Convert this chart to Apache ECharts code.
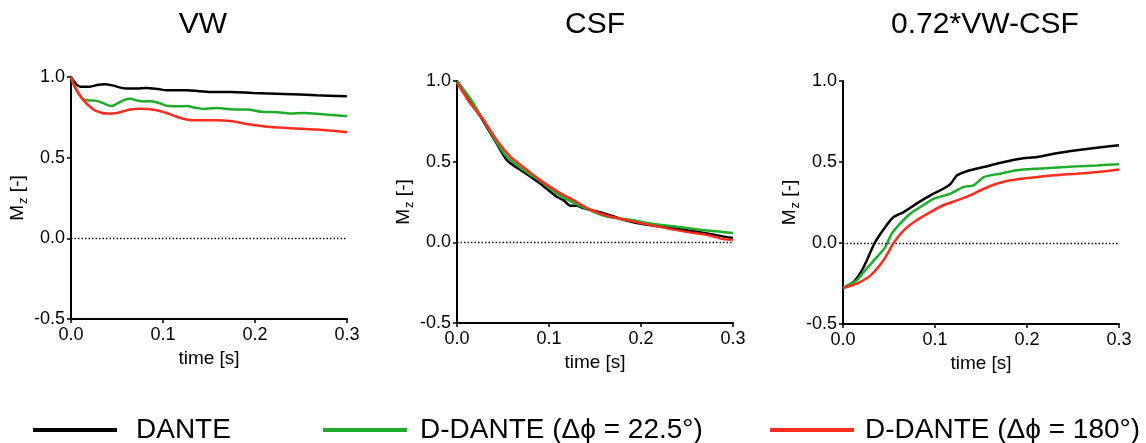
<!DOCTYPE html>
<html>
<head>
<meta charset="utf-8">
<script src="https://cdn.jsdelivr.net/npm/echarts@6/dist/echarts.min.js"></script>
<style>
html,body{margin:0;padding:0;background:#fff;}
#chart{width:1146px;height:443px;}
</style>
</head>
<body>
<div id="chart"></div>
<script>
// ---------- data ----------
const panelTitles = ['VW', 'CSF', '0.72*VW-CSF'];
const seriesNames = ['DANTE', 'D-DANTE (\u0394\u03d5 = 22.5\u00b0)', 'D-DANTE (\u0394\u03d5 = 180\u00b0)'];
const xTicks = [0, 0.1, 0.2, 0.3];
const yTicks = [-0.5, 0, 0.5, 1.0];

// VW
const vwDanteT = [0, 0.005, 0.01, 0.02, 0.03, 0.037, 0.045, 0.06, 0.072, 0.082, 0.095, 0.104, 0.126, 0.14, 0.155, 0.173, 0.198, 0.231, 0.267, 0.3];
const vwDanteV = [1.0, 0.96, 0.94, 0.94, 0.952, 0.955, 0.948, 0.928, 0.928, 0.932, 0.925, 0.918, 0.918, 0.912, 0.907, 0.907, 0.901, 0.895, 0.887, 0.880];
const vwD225T = [0, 0.005, 0.013, 0.02, 0.028, 0.035, 0.0435, 0.05, 0.059, 0.065, 0.071, 0.08, 0.086, 0.095, 0.104, 0.115, 0.126, 0.135, 0.144, 0.158, 0.177, 0.191, 0.209, 0.224, 0.238, 0.253, 0.271, 0.3];
const vwD225V = [1.0, 0.93, 0.864, 0.855, 0.852, 0.838, 0.82, 0.835, 0.86, 0.865, 0.855, 0.848, 0.85, 0.84, 0.822, 0.818, 0.82, 0.81, 0.802, 0.808, 0.798, 0.798, 0.783, 0.782, 0.774, 0.777, 0.771, 0.757];
const vwD180T = [0, 0.005, 0.013, 0.024, 0.032, 0.039, 0.05, 0.064, 0.075, 0.09, 0.104, 0.119, 0.133, 0.158, 0.173, 0.195, 0.213, 0.238, 0.267, 0.3];
const vwD180V = [1.0, 0.93, 0.86, 0.80, 0.78, 0.773, 0.777, 0.798, 0.803, 0.797, 0.777, 0.746, 0.732, 0.732, 0.727, 0.705, 0.692, 0.683, 0.674, 0.658];

// CSF
const csfDanteT = [0, 0.0145, 0.029, 0.043, 0.054, 0.063, 0.072, 0.09, 0.108, 0.116, 0.123, 0.13, 0.137, 0.159, 0.181, 0.202, 0.235, 0.264, 0.289, 0.3];
const csfDanteV = [1.0, 0.881, 0.747, 0.613, 0.51, 0.47, 0.438, 0.366, 0.284, 0.26, 0.226, 0.228, 0.212, 0.181, 0.14, 0.113, 0.088, 0.062, 0.037, 0.027];
const csfD225T = [0, 0.0145, 0.029, 0.043, 0.054, 0.072, 0.09, 0.108, 0.126, 0.148, 0.163, 0.188, 0.209, 0.235, 0.264, 0.282, 0.3];
const csfD225V = [1.0, 0.89, 0.755, 0.62, 0.531, 0.449, 0.383, 0.305, 0.247, 0.191, 0.16, 0.14, 0.119, 0.099, 0.078, 0.068, 0.058];
const csfD180T = [0, 0.0145, 0.029, 0.043, 0.058, 0.076, 0.09, 0.112, 0.126, 0.145, 0.166, 0.191, 0.217, 0.246, 0.271, 0.289, 0.3];
const csfD180V = [0.99, 0.86, 0.757, 0.634, 0.531, 0.449, 0.387, 0.305, 0.263, 0.202, 0.16, 0.13, 0.099, 0.068, 0.047, 0.02, 0.016];

// 0.72*VW-CSF
const difDanteT = [0, 0.0116, 0.0225, 0.0344, 0.046, 0.055, 0.066, 0.08, 0.095, 0.109, 0.117, 0.124, 0.138, 0.153, 0.175, 0.193, 0.211, 0.229, 0.254, 0.276, 0.3];
const difDanteV = [-0.278, -0.24, -0.148, 0, 0.099, 0.16, 0.191, 0.243, 0.294, 0.335, 0.365, 0.418, 0.449, 0.469, 0.5, 0.52, 0.531, 0.551, 0.572, 0.588, 0.603];
const difD225T = [0, 0.015, 0.024, 0.037, 0.046, 0.053, 0.062, 0.073, 0.084, 0.099, 0.117, 0.131, 0.142, 0.153, 0.171, 0.189, 0.211, 0.229, 0.254, 0.276, 0.3];
const difD225V = [-0.278, -0.23, -0.169, -0.086, -0.025, 0.058, 0.119, 0.181, 0.222, 0.274, 0.305, 0.346, 0.356, 0.407, 0.428, 0.449, 0.459, 0.465, 0.473, 0.479, 0.486];
const difD180T = [0, 0.015, 0.03, 0.044, 0.055, 0.066, 0.08, 0.095, 0.109, 0.124, 0.138, 0.153, 0.167, 0.182, 0.204, 0.229, 0.254, 0.276, 0.3];
const difD180V = [-0.278, -0.251, -0.2, -0.107, 0, 0.078, 0.14, 0.191, 0.233, 0.263, 0.294, 0.335, 0.366, 0.387, 0.403, 0.418, 0.428, 0.438, 0.453];

// ---------- chart ----------
const FONT = '"Liberation Sans", Arial, Helvetica, sans-serif';
const colors = ['#000000', '#1fac2a', '#ff2d1f'];
const grids = [
  {left: 71, top: 77, width: 276, height: 242},
  {left: 457, top: 81, width: 276, height: 242},
  {left: 843, top: 81, width: 276, height: 243}
];
const titleX = [203, 595, 985];
const panelData = [
  [[vwDanteT, vwDanteV], [vwD225T, vwD225V], [vwD180T, vwD180V]],
  [[csfDanteT, csfDanteV], [csfD225T, csfD225V], [csfD180T, csfD180V]],
  [[difDanteT, difDanteV], [difD225T, difD225V], [difD180T, difD180V]]
];
const smoothness = [0.35, 0.2, 0.2];

function zip(t, v) { return t.map((x, i) => [x, v[i]]); }

const xAxes = [], yAxes = [], series = [];
grids.forEach((g, i) => {
  xAxes.push({
    gridIndex: i, type: 'value', min: xTicks[0], max: xTicks[xTicks.length - 1], interval: 0.1,
    name: 'time [s]', nameLocation: 'middle', nameGap: 27,
    nameTextStyle: {fontFamily: FONT, fontSize: 19, color: '#000'},
    axisLine: {show: true, onZero: false, lineStyle: {color: '#000', width: 2}},
    axisTick: {show: true, length: 4, lineStyle: {color: '#000', width: 1.5}},
    axisLabel: {fontFamily: FONT, fontSize: 18, color: '#000', margin: 7, formatter: v => v.toFixed(1)},
    splitLine: {show: false}
  });
  yAxes.push({
    gridIndex: i, type: 'value', min: yTicks[0], max: yTicks[yTicks.length - 1], interval: 0.5,
    name: '{m|M}{s|z}{m| [-]}', nameLocation: 'middle', nameGap: 38,
    nameTextStyle: {
      fontFamily: FONT, color: '#000',
      rich: {
        m: {fontFamily: FONT, fontSize: 19, color: '#000'},
        s: {fontFamily: FONT, fontSize: 13, color: '#000', padding: [11, 0, 0, 1]}
      }
    },
    axisLine: {show: true, onZero: false, lineStyle: {color: '#000', width: 2}},
    axisTick: {show: true, length: 4, lineStyle: {color: '#000', width: 1.5}},
    axisLabel: {fontFamily: FONT, fontSize: 18, color: '#000', margin: 6, formatter: v => v.toFixed(1)},
    splitLine: {show: false}
  });
  panelData[i].forEach((d, k) => {
    const s = {
      name: seriesNames[k], type: 'line', xAxisIndex: i, yAxisIndex: i,
      data: zip(d[0], d[1]), showSymbol: false, symbol: 'none', smooth: smoothness[i],
      lineStyle: {color: colors[k], width: 2.5}, itemStyle: {color: colors[k]},
      z: 3 + k, animation: false
    };
    if (k === 0) {
      s.markLine = {
        silent: true, symbol: 'none', animation: false,
        label: {show: false},
        lineStyle: {color: '#111', width: 1.4, type: [1.5, 2]},
        data: [{yAxis: 0}]
      };
    }
    series.push(s);
  });
});

const legendLeft = [33, 323, 770];
const legendTextGap = [14, 8, 6];
const legends = seriesNames.map((n, k) => ({
  data: [n], left: legendLeft[k], top: 416, padding: 0, orient: 'horizontal',
  icon: 'rect', itemWidth: 84, itemHeight: 4, selectedMode: false,
  textStyle: {fontFamily: FONT, fontSize: 28, color: '#000', padding: [0, 0, 0, legendTextGap[k]]}
}));

const chart = echarts.init(document.getElementById('chart'), null, {renderer: 'canvas'});
chart.setOption({
  animation: false,
  backgroundColor: '#fff',
  grid: grids.map(g => Object.assign({outerBoundsMode: 'none', containLabel: false}, g)),
  xAxis: xAxes,
  yAxis: yAxes,
  legend: legends,
  graphic: panelTitles.map((t, i) => ({
    type: 'text', x: titleX[i], y: 25,
    style: {text: t, fontFamily: FONT, fontSize: 30, fill: '#000',
            textAlign: 'center', textVerticalAlign: 'middle', align: 'center', verticalAlign: 'middle'}
  })),
  series: series
});
</script>
</body>
</html>
